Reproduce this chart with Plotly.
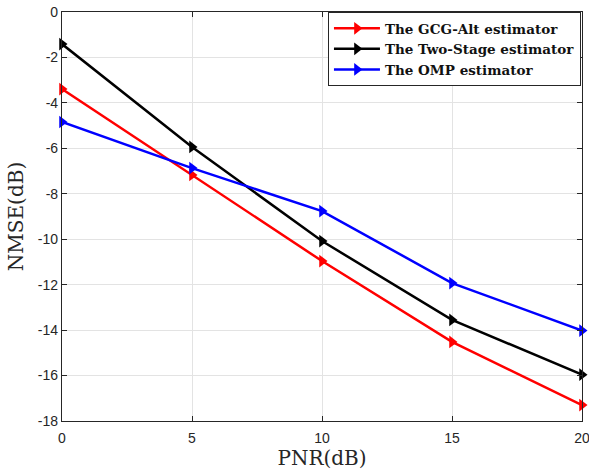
import plotly.graph_objects as go

pnr = [0, 5, 10, 15, 20]
gcg_alt = [-3.39, -7.17, -10.96, -14.52, -17.3]
two_stage = [-1.41, -5.94, -10.08, -13.55, -15.96]
omp = [-4.84, -6.87, -8.76, -11.93, -14.02]

y_ticks = list(range(-18, 1, 2))
y_ticktext = [str(v) for v in y_ticks]
x_ticks = [0, 5, 10, 15, 20]

names = ["The GCG-Alt estimator", "The Two-Stage estimator", "The OMP estimator"]
colors = ["#ff0000", "#000000", "#0000ff"]
series = [gcg_alt, two_stage, omp]

fig = go.Figure()
for name, col, ys in zip(names, colors, series):
    fig.add_trace(go.Scatter(
        x=pnr, y=ys, name=name, mode="lines+markers",
        line=dict(color=col, width=2.5),
        marker=dict(symbol="triangle-right", size=11, color=col),
        cliponaxis=False,
    ))

axis_common = dict(
    showgrid=True, gridcolor="#e3e3e3", gridwidth=1,
    showline=True, linecolor="#262626", linewidth=1.2, mirror="ticks",
    ticks="inside", ticklen=5, tickcolor="#262626",
    tickfont=dict(family="Liberation Sans, Arial", size=14, color="#262626"),
    zeroline=False, ticklabeloverflow="allow", automargin=False,
)

fig.update_layout(
    width=589, height=470,
    margin=dict(l=62, r=7, t=12, b=49, autoexpand=False),
    paper_bgcolor="white", plot_bgcolor="white",
    xaxis=dict(range=[0, 20], tickvals=x_ticks, ticklabelstandoff=4,
               title=dict(text="PNR(dB)", standoff=0,
                          font=dict(family="DejaVu Serif", size=20, color="#262626")),
               **axis_common),
    yaxis=dict(range=[-18, 0], tickvals=y_ticks, ticktext=y_ticktext,
               title=dict(text="NMSE(dB)", standoff=8,
                          font=dict(family="DejaVu Serif", size=20, color="#262626")),
               **axis_common),
    legend=dict(x=0.998, y=1.0, xanchor="right", yanchor="top",
                bgcolor="white", bordercolor="#262626", borderwidth=1,
                font=dict(family="DejaVu Serif", size=13.5, color="#111111", weight="bold"),
                itemwidth=46, tracegroupgap=0),
    showlegend=True,
)

fig.write_html("out.html", config={"displayModeBar": False},
               post_script="document.body.style.margin='0';")
